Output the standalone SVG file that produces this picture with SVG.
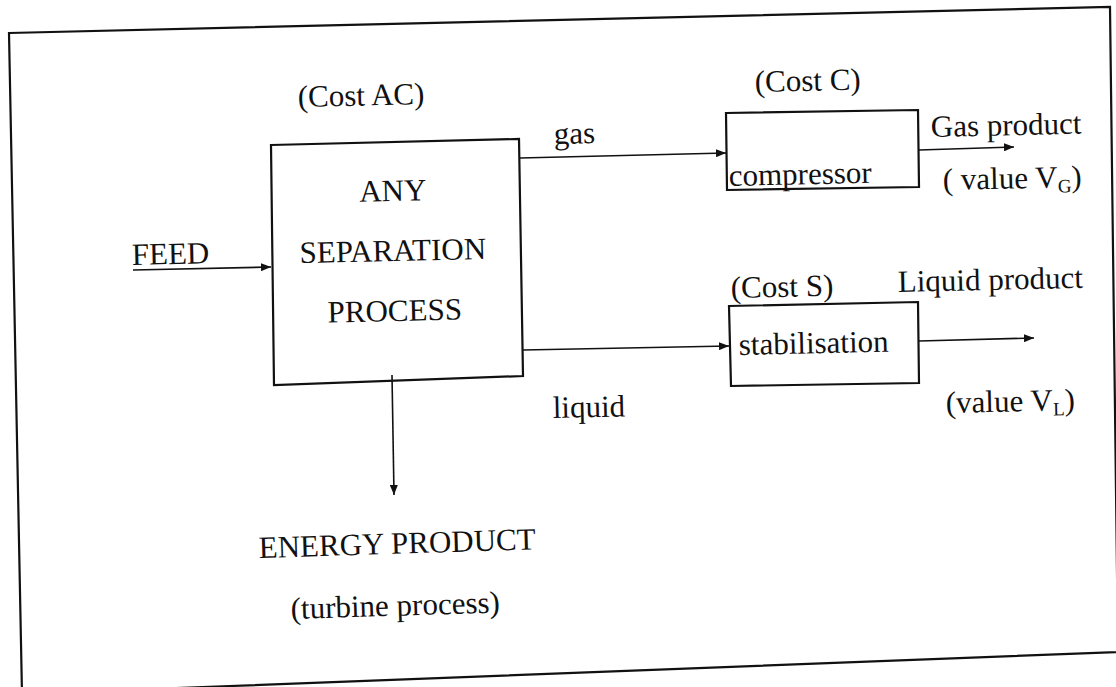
<svg xmlns="http://www.w3.org/2000/svg" width="1116" height="687" viewBox="0 0 1116 687">
<style>
text{font-family:"Liberation Serif","Times New Roman",serif;font-size:31px;fill:#111}
.box{fill:none;stroke:#111;stroke-width:2.2;stroke-linejoin:miter}
.con{fill:none;stroke:#111;stroke-width:1.6}
.sub{font-size:19px}
</style>
<defs>
<marker id="ah" viewBox="0 0 10 8" refX="10" refY="4" markerWidth="10" markerHeight="8" markerUnits="userSpaceOnUse" orient="auto">
<path d="M0,0 L10,4 L0,8 z" fill="#111"/>
</marker>
</defs>
<rect width="1116" height="687" fill="#fff"/>
<g id="frame">
<polygon class="box" points="9,33 1110,7 1118,652 22,694"/>
</g>
<g id="sep-process">
<polygon class="box" points="271,145 519,139 523,376 274,385"/>
<text x="393" y="201" text-anchor="middle" transform="rotate(-1.3 393 201)">ANY</text>
<text x="393" y="261" text-anchor="middle" transform="rotate(-1.3 393 261)">SEPARATION</text>
<text x="395" y="321" text-anchor="middle" transform="rotate(-1.3 395 321)">PROCESS</text>
<text x="298" y="107" transform="rotate(-1.3 298 107)">(Cost AC)</text>
</g>
<g id="compressor">
<polygon class="box" points="726,113 918,110 919,187 727,190"/>
<text x="729" y="186" transform="rotate(-1.3 729 186)">compressor</text>
<text x="755" y="92" transform="rotate(-1.3 755 92)">(Cost C)</text>
</g>
<g id="stabilisation">
<polygon class="box" points="729,306 918,302 919,383 731,386"/>
<text x="739" y="355" transform="rotate(-1.3 739 355)">stabilisation</text>
<text x="731" y="298" transform="rotate(-1.3 731 298)">(Cost S)</text>
</g>
<g id="labels">
<text x="132" y="265" transform="rotate(-1.3 132 265)">FEED</text>
<text x="554" y="144" transform="rotate(-1.3 554 144)">gas</text>
<text x="553" y="418" transform="rotate(-1.3 553 418)">liquid</text>
<text x="931" y="137" transform="rotate(-1.3 931 137)">Gas product</text>
<text x="943" y="190" transform="rotate(-1.3 943 190)">( value V<tspan class="sub" dy="5">G</tspan><tspan dy="-5">)</tspan></text>
<text x="898" y="292" transform="rotate(-1.3 898 292)">Liquid product</text>
<text x="946" y="413" transform="rotate(-1.3 946 413)">(value V<tspan class="sub" dy="5">L</tspan><tspan dy="-5">)</tspan></text>
<text x="259" y="558" transform="rotate(-1.8 259 558)">ENERGY PRODUCT</text>
<text x="291" y="619" transform="rotate(-1.8 291 619)">(turbine process)</text>
</g>
<g id="connectors">
<line class="con" x1="133" y1="270" x2="271" y2="267" marker-end="url(#ah)"/>
<line class="con" x1="520" y1="158" x2="726" y2="153" marker-end="url(#ah)"/>
<line class="con" x1="523" y1="350" x2="729" y2="346" marker-end="url(#ah)"/>
<line class="con" x1="919" y1="150" x2="1014" y2="147" marker-end="url(#ah)"/>
<line class="con" x1="919" y1="341" x2="1034" y2="338" marker-end="url(#ah)"/>
<line class="con" x1="392" y1="375" x2="394" y2="495" marker-end="url(#ah)"/>
</g>
</svg>
